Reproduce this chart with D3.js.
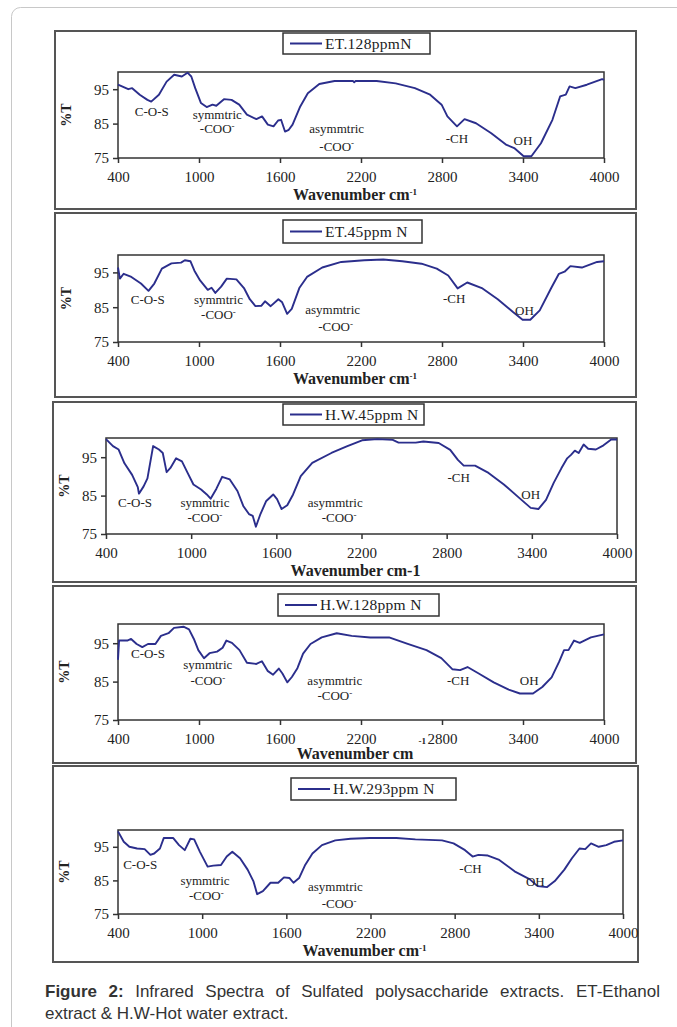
<!DOCTYPE html>
<html lang="en">
<head>
<meta charset="UTF-8">
<title>Infrared spectra</title>
<script src="https://cdn.jsdelivr.net/npm/d3@7/dist/d3.min.js"></script>
<style>
body { margin: 0; background: #fff; }
svg { display: block; }
.tick text { font-family: 'Liberation Serif', 'Times New Roman', serif; font-size: 15px; fill: #222; }
.note { font-family: 'Liberation Serif', 'Times New Roman', serif; font-size: 13px; fill: #222; }
</style>
</head>
<body>
<script>
// %T, wavenumber in cm-1
const et128Wave = [400,476,505,561,618,646,703,760,816,873,915,943,972,1014,1057,1100,1128,1185,1241,1298,1355,1425,1467,1510,1552,1586,1608,1637,1665,1693,1750,1806,1891,2004,2140,2150,2160,2316,2457,2599,2712,2797,2840,2911,2967,3052,3165,3278,3335,3405,3462,3533,3618,3675,3717,3745,3788,3873,3986,4000];
const et128T    = [96.3,95.0,95.3,93.4,91.9,91.4,93.4,97.2,99.2,98.7,99.8,98.7,95.3,91.0,89.8,90.5,90.2,92.1,91.9,90.5,87.6,86.3,87.1,84.7,84.2,85.9,86.1,82.7,83.2,84.7,90.0,93.8,96.5,97.4,97.4,97.0,97.4,97.4,96.7,95.3,93.4,90.5,87.1,84.2,86.3,85.1,82.2,78.8,77.9,75.5,75.5,79.3,86.1,92.9,93.4,95.8,95.3,96.3,97.9,97.7];

const et45Wave = [400,414,442,499,570,626,669,725,796,867,895,937,966,1008,1065,1093,1121,1164,1206,1277,1333,1376,1418,1461,1489,1531,1588,1616,1653,1687,1743,1800,1913,2054,2224,2365,2506,2648,2761,2846,2916,2987,3100,3213,3326,3397,3454,3524,3609,3666,3708,3751,3836,3949,4000];
const et45T    = [96.4,93.2,94.6,93.7,91.8,89.7,91.8,96.1,97.6,97.8,98.5,98.2,95.5,92.7,90.0,90.6,89.1,90.9,93.2,93.0,90.5,87.3,85.3,85.4,86.7,85.3,87.3,86.4,83.1,84.5,90.5,93.7,96.4,98.0,98.5,98.7,98.2,97.5,96.1,94.1,90.4,92.1,90.4,87.3,83.6,81.4,81.4,84.1,90.5,94.6,95.2,96.8,96.4,98.0,98.2];

const hw45Wave = [400,449,489,530,584,624,632,665,692,732,773,800,827,854,894,935,975,1016,1070,1110,1137,1178,1218,1272,1326,1367,1407,1434,1456,1488,1529,1578,1605,1637,1677,1718,1772,1853,1988,2096,2204,2312,2420,2461,2582,2636,2744,2825,2879,2920,3000,3095,3203,3311,3392,3446,3500,3554,3608,3649,3676,3703,3730,3765,3797,3851,3905,3959,4000];
const hw45T    = [99.7,97.9,97.0,93.4,90.4,87.2,85.5,87.4,89.5,97.9,97.0,96.1,91.1,92.2,94.7,93.9,90.9,87.9,86.6,85.3,84.2,86.8,89.9,89.2,86.2,82.3,80.2,79.7,76.9,80.2,83.6,85.3,84.1,81.5,82.5,85.3,90.1,93.5,96.1,97.8,99.4,99.7,99.5,98.8,98.8,99.1,98.7,96.9,94.3,92.8,92.8,90.9,87.9,84.4,81.8,81.5,83.9,88.3,92.1,94.7,95.6,96.7,96.1,98.3,97.2,97.0,98.1,99.6,99.6];

const hw128Wave = [400,408,469,497,538,580,622,677,718,774,815,885,926,962,995,1037,1078,1134,1175,1203,1244,1300,1355,1425,1466,1508,1549,1591,1618,1654,1688,1729,1771,1826,1909,2020,2131,2269,2408,2546,2685,2795,2878,2934,2989,3072,3183,3294,3377,3474,3543,3612,3668,3704,3737,3778,3820,3903,4000];
const hw128T    = [90.7,95.7,95.7,96.1,94.8,94.0,94.8,94.8,96.9,97.6,99.0,99.3,98.6,96.1,93.2,91.1,92.4,92.8,93.8,95.7,95.1,93.2,89.9,89.6,90.3,87.8,86.8,88.4,87.1,84.8,86.2,88.5,92.3,94.8,96.5,97.6,96.9,96.5,96.5,94.8,93.2,91.1,88.2,88.0,88.8,87.1,84.8,82.9,81.9,81.9,83.6,86.1,90.2,93.2,93.2,95.7,95.1,96.5,97.3];

const hw293Wave = [400,441,481,536,590,631,658,699,726,794,835,876,916,943,984,1039,1079,1134,1175,1215,1270,1324,1365,1392,1433,1487,1542,1583,1623,1651,1691,1732,1786,1854,1949,2058,2194,2384,2520,2710,2792,2874,2928,2969,3037,3118,3227,3336,3391,3459,3514,3582,3636,3690,3731,3772,3827,3881,3936,4000];
const hw293T    = [99.6,96.5,95.0,94.5,94.3,92.6,93.0,94.5,97.6,97.6,95.5,94.0,97.4,97.2,93.5,89.1,89.4,89.6,92.1,93.5,91.6,88.2,84.8,80.9,81.8,84.3,84.3,85.9,85.7,84.3,85.7,89.4,93.0,95.5,96.9,97.4,97.6,97.6,97.2,96.9,96.0,94.0,92.1,92.6,92.4,91.1,87.7,85.3,83.3,83.0,84.8,88.2,91.6,94.5,94.3,96.0,95.0,95.5,96.5,96.9];

// band labels: text, wavenumber, %T (the -COO lines get a superscript minus)
const et128Notes = [["C-O-S",650,88.6],["symmtric",1135,87.8],["-COO",1135,83.6],["asymmtric",2020,83.6],["-COO",2020,78.5],["-CH",2911,80.8],["OH",3400,80.1]];
const et45Notes  = [["C-O-S",620,87.3],["symmtric",1144,87.3],["-COO",1144,83.0],["asymmtric",1990,84.4],["-COO",2012,79.5],["-CH",2890,87.6],["OH",3411,84.0]];
const hw45Notes  = [["C-O-S",605,83.2],["symmtric",1097,83.2],["-COO",1097,79.2],["asymmtric",2015,83.2],["-COO",2042,79.2],["-CH",2885,89.6],["OH",3392,85.2]];
const hw128Notes = [["C-O-S",622,92.4],["symmtric",1065,89.4],["-COO",1065,85.2],["asymmtric",2006,85.2],["-COO",2006,81.5],["-CH",2920,85.2],["OH",3446,85.2]];
const hw293Notes = [["C-O-S",558,89.8],["symmtric",1020,85.0],["-COO",1030,80.4],["asymmtric",1950,83.3],["-COO",1976,78.1],["-CH",2913,88.5],["OH",3375,84.8]];

const seriesNames = ["ET.128ppmN","ET.45ppm N","H.W.45ppm N","H.W.128ppm N","H.W.293ppm N"];
const xTicks = [400,1000,1600,2200,2800,3400,4000];
const yTicks = [75,85,95];

// where each Excel chart sits on the page
const panels = [
  {name: seriesNames[0], wave: et128Wave, t: et128T, notes: et128Notes,
   box: [55,31,636,209], plot: [118,72,604,158], legend: [283,33,430,54], title: "sup"},
  {name: seriesNames[1], wave: et45Wave, t: et45T, notes: et45Notes,
   box: [55,213,636,397], plot: [118,255,604,342], legend: [283,220,422,243], title: "sup"},
  {name: seriesNames[2], wave: hw45Wave, t: hw45T, notes: hw45Notes,
   box: [53,402,636,582], plot: [106,438,617,534], legend: [283,404,424,425], title: "plain"},
  {name: seriesNames[3], wave: hw128Wave, t: hw128T, notes: hw128Notes,
   box: [53,586,636,763], plot: [118,624,604,720], legend: [278,594,439,616], title: "odd"},
  {name: seriesNames[4], wave: hw293Wave, t: hw293T, notes: hw293Notes,
   box: [53,766,638,962], plot: [118,830,623,914], legend: [291,778,456,800], title: "sup"}
];

const W = 677, H = 1027;
const lineColor = "#2b2e8c";
const serif = "'Liberation Serif', 'Times New Roman', serif";

const svg = d3.select("body").append("svg").attr("width", W).attr("height", H);

// page frame
svg.append("rect").attr("x", 11.5).attr("y", 7.5).attr("width", 720).attr("height", 1100)
  .attr("rx", 9).attr("fill", "none").attr("stroke", "#c8c8c8").attr("stroke-width", 1);

panels.forEach(p => {
  const [bx0, by0, bx1, by1] = p.box;
  const [px0, py0, px1, py1] = p.plot;
  const g = svg.append("g");

  g.append("rect").attr("x", bx0).attr("y", by0).attr("width", bx1 - bx0).attr("height", by1 - by0)
    .attr("fill", "#fff").attr("stroke", "#555").attr("stroke-width", 2);

  const x = d3.scaleLinear().domain([400, 4000]).range([px0, px1]);
  const y = d3.scaleLinear().domain([75, 100]).range([py1, py0]);

  const yAxis = g.append("g").attr("transform", `translate(${px0},0)`)
    .call(d3.axisLeft(y).tickValues(yTicks).tickSize(5).tickPadding(4).tickFormat(d3.format("d")));
  const xAxis = g.append("g").attr("transform", `translate(0,${py1})`)
    .call(d3.axisBottom(x).tickValues(xTicks).tickSize(5).tickPadding(8).tickFormat(d3.format("d")));
  [yAxis, xAxis].forEach(a => {
    a.select(".domain").remove();
    a.selectAll("line").attr("stroke", "#333").attr("stroke-width", 1.5);
  });

  g.append("rect").attr("x", px0).attr("y", py0).attr("width", px1 - px0).attr("height", py1 - py0)
    .attr("fill", "none").attr("stroke", "#333").attr("stroke-width", 1.5);

  const line = d3.line().x((d, i) => x(p.wave[i])).y(d => y(d));
  g.append("path").datum(p.t).attr("d", line)
    .attr("fill", "none").attr("stroke", lineColor).attr("stroke-width", 1.9)
    .attr("stroke-linejoin", "round");

  // band notes
  p.notes.forEach(([label, wn, val]) => {
    const t = g.append("text").attr("class", "note")
      .attr("x", x(wn)).attr("y", y(val)).attr("text-anchor", "middle").attr("dy", "0.35em")
      .text(label);
    if (label === "-COO") {
      t.append("tspan").attr("dy", "-0.45em").attr("font-size", "9px").text("-");
    }
  });

  // y title
  g.append("text").attr("transform", `translate(${bx0 + 11},${(py0 + py1) / 2}) rotate(-90)`)
    .attr("text-anchor", "middle").attr("dy", "0.35em")
    .style("font-family", serif).style("font-size", "14px").style("font-weight", "bold").attr("fill", "#222")
    .text("%T");

  // x title
  const cx = (px0 + px1) / 2 - 6;
  const ty = py1 + (p.title === "odd" ? 39 : 42);
  const xt = g.append("text").attr("x", cx).attr("y", ty).attr("text-anchor", "middle")
    .style("font-family", serif).style("font-size", "16px").style("font-weight", "bold").attr("fill", "#222")
    .text(p.title === "plain" ? "Wavenumber cm-1" : "Wavenumber cm");
  if (p.title === "sup") {
    xt.append("tspan").attr("dy", "-0.6em").attr("font-size", "9px").text("-1");
  } else if (p.title === "odd") {
    g.append("text").attr("x", x(2800) - 16).attr("y", py1 + 24).attr("text-anchor", "end")
      .style("font-family", serif).style("font-size", "9px").style("font-weight", "bold").attr("fill", "#222")
      .text("-1");
  }

  // legend
  const [lx0, ly0, lx1, ly1] = p.legend;
  const lg = g.append("g");
  lg.append("rect").attr("x", lx0).attr("y", ly0).attr("width", lx1 - lx0).attr("height", ly1 - ly0)
    .attr("fill", "#fff").attr("stroke", "#333").attr("stroke-width", 1.5);
  const my = (ly0 + ly1) / 2;
  lg.append("line").attr("x1", lx0 + 7).attr("x2", lx0 + 39).attr("y1", my).attr("y2", my)
    .attr("stroke", lineColor).attr("stroke-width", 2);
  lg.append("text").attr("x", lx0 + 42).attr("y", my).attr("dy", "0.35em")
    .style("font-family", serif).style("font-size", "15.5px").style("letter-spacing", "0.3px").attr("fill", "#222")
    .text(p.name);
});

// caption
const cap = svg.append("g").style("font-family", "'Liberation Sans', Arial, sans-serif").style("font-size", "17px").attr("fill", "#333");
const l1 = cap.append("text").attr("x", 45).attr("y", 997);
l1.append("tspan").style("font-weight", "bold").text("Figure 2:");
l1.append("tspan").text(" Infrared Spectra of Sulfated polysaccharide extracts. ET-Ethanol");
const l2 = cap.append("text").attr("x", 45).attr("y", 1019).text("extract & H.W-Hot water extract.");

// justify the first caption line like the page does, keep the second at its width
const target = 660 - 45;
const len = l1.node().getComputedTextLength();
if (len < target) l1.style("word-spacing", ((target - len) / 8) + "px");
else l1.attr("textLength", target).attr("lengthAdjust", "spacingAndGlyphs");
const len2 = l2.node().getComputedTextLength();
if (len2 > 282) l2.attr("textLength", 282).attr("lengthAdjust", "spacingAndGlyphs");
</script>
</body>
</html>
